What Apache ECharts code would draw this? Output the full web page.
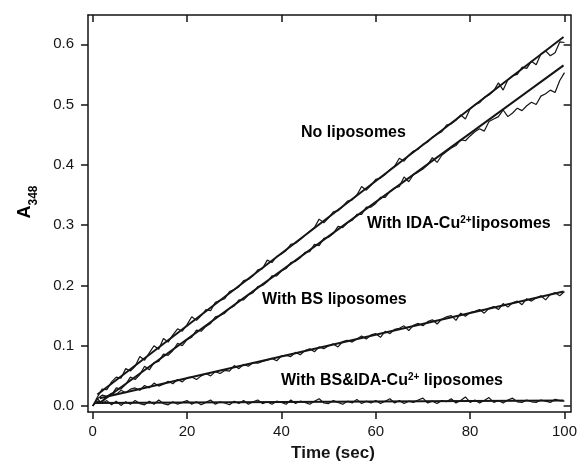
<!DOCTYPE html>
<html>
<head>
<meta charset="utf-8">
<script src="https://cdn.jsdelivr.net/npm/echarts@6/dist/echarts.min.js"></script>
<style>
  html, body { margin: 0; padding: 0; background: #fff; }
  #chart { width: 580px; height: 463px; }
</style>
</head>
<body>
<div id="chart"></div>
<script>
// ============================================================
// A348 vs time, four traces with linear fits
// ============================================================

var FONT = '"Liberation Sans", Arial, Helvetica, sans-serif';
var INK = '#151515';

var X_TICKS = [0, 20, 40, 60, 80, 100];
var Y_TICKS = [0, 0.1, 0.2, 0.3, 0.4, 0.5, 0.6];

// sampled once per second, 0..100 s
var NO_LIPO = [
  0.000, 0.015, 0.028, 0.027, 0.040, 0.048, 0.046, 0.062, 0.058, 0.066,
  0.082, 0.076, 0.088, 0.100, 0.094, 0.112, 0.106, 0.118, 0.128, 0.124,
  0.135, 0.148, 0.142, 0.150, 0.160, 0.158, 0.172, 0.175, 0.178, 0.190,
  0.193, 0.198, 0.208, 0.210, 0.216, 0.226, 0.228, 0.242, 0.238, 0.248,
  0.252, 0.258, 0.268, 0.270, 0.276, 0.283, 0.290, 0.296, 0.310, 0.304,
  0.312, 0.322, 0.324, 0.331, 0.340, 0.342, 0.350, 0.364, 0.358, 0.366,
  0.376, 0.378, 0.384, 0.392, 0.398, 0.411, 0.406, 0.416, 0.423, 0.426,
  0.434, 0.438, 0.446, 0.451, 0.455, 0.466, 0.468, 0.474, 0.483, 0.476,
  0.493, 0.500, 0.503, 0.512, 0.516, 0.523, 0.536, 0.524, 0.541, 0.548,
  0.550, 0.562, 0.560, 0.572, 0.566, 0.584, 0.589, 0.581, 0.586, 0.604,
  0.603
];
var IDA_CU = [
  0.000, 0.008, 0.006, 0.016, 0.018, 0.030, 0.028, 0.036, 0.048, 0.044,
  0.052, 0.066, 0.060, 0.072, 0.074, 0.086, 0.084, 0.092, 0.104, 0.100,
  0.110, 0.114, 0.126, 0.124, 0.132, 0.137, 0.148, 0.150, 0.154, 0.162,
  0.166, 0.176, 0.176, 0.184, 0.188, 0.198, 0.200, 0.206, 0.216, 0.216,
  0.224, 0.228, 0.238, 0.240, 0.246, 0.255, 0.256, 0.268, 0.266, 0.278,
  0.280, 0.286, 0.298, 0.296, 0.304, 0.308, 0.318, 0.318, 0.330, 0.330,
  0.336, 0.346, 0.346, 0.356, 0.362, 0.364, 0.380, 0.372, 0.384, 0.388,
  0.393, 0.400, 0.412, 0.404, 0.416, 0.422, 0.428, 0.432, 0.442, 0.440,
  0.448, 0.455, 0.460, 0.456, 0.472, 0.476, 0.480, 0.491, 0.480, 0.486,
  0.494, 0.490, 0.498, 0.504, 0.500, 0.514, 0.518, 0.524, 0.520, 0.540,
  0.553
];
var BS = [
  0.000, 0.012, 0.018, 0.016, 0.021, 0.019, 0.026, 0.022, 0.028, 0.030,
  0.026, 0.034, 0.030, 0.038, 0.033, 0.036, 0.041, 0.037, 0.044, 0.040,
  0.047, 0.048, 0.044, 0.050, 0.054, 0.050, 0.057, 0.054, 0.059, 0.058,
  0.067, 0.062, 0.069, 0.066, 0.072, 0.071, 0.074, 0.076, 0.079, 0.075,
  0.083, 0.084, 0.082, 0.089, 0.085, 0.092, 0.095, 0.090, 0.098, 0.095,
  0.100, 0.103, 0.098, 0.107, 0.109, 0.106, 0.111, 0.116, 0.111, 0.118,
  0.120, 0.114, 0.124, 0.120, 0.127, 0.129, 0.133, 0.125, 0.134, 0.137,
  0.133, 0.140, 0.143, 0.136, 0.144, 0.148, 0.150, 0.142, 0.154, 0.149,
  0.155, 0.157, 0.160, 0.154, 0.162, 0.165, 0.160, 0.170, 0.164, 0.171,
  0.174, 0.168, 0.178, 0.174, 0.179, 0.183, 0.176, 0.185, 0.188, 0.183,
  0.190
];
var BS_IDA_CU = [
  0.000, 0.012, 0.004, 0.009, 0.002, 0.008, 0.001, 0.007, 0.003, 0.009,
  0.004, 0.002, 0.008, 0.003, 0.010, 0.004, 0.002, 0.007, 0.003, 0.006,
  0.009, 0.003, 0.007, 0.002, 0.006, 0.010, 0.003, 0.007, 0.005, 0.002,
  0.008, 0.004, 0.009, 0.003, 0.007, 0.010, 0.004, 0.007, 0.003, 0.008,
  0.006, 0.003, 0.010, 0.004, 0.008, 0.006, 0.003, 0.008, 0.012, 0.005,
  0.004, 0.009, 0.006, 0.003, 0.008, 0.005, 0.011, 0.004, 0.008, 0.005,
  0.009, 0.004, 0.008, 0.012, 0.005, 0.009, 0.004, 0.008, 0.006, 0.010,
  0.013, 0.005, 0.008, 0.004, 0.009, 0.007, 0.012, 0.005, 0.009, 0.015,
  0.006, 0.010, 0.005, 0.009, 0.014, 0.006, 0.009, 0.005, 0.010, 0.013,
  0.007, 0.006, 0.010, 0.007, 0.006, 0.010, 0.008, 0.006, 0.011, 0.009,
  0.008
];

// linear fits: [x0, y0, x1, y1]
var FIT_NO_LIPO = [1.0, 0.019, 99.8, 0.612];
var FIT_IDA_CU = [1.5, 0.0055, 99.8, 0.565];
var FIT_BS = [1.5, 0.013, 99.8, 0.190];
var FIT_BS_IDA_CU = [0.5, 0.005, 99.8, 0.009];

// ============================================================

function toPairs(values) {
  return values.map(function(v, i) { return [i, v]; });
}

function traceSeries(name, values) {
  return {
    name: name, type: 'line', data: toPairs(values),
    showSymbol: false, silent: true,
    lineStyle: { color: INK, width: 1.2 },
  };
}

function fitSeries(name, fit) {
  return {
    name: name, type: 'line', data: [[fit[0], fit[1]], [fit[2], fit[3]]],
    showSymbol: false, silent: true, z: 3,
    lineStyle: { color: INK, width: 2 },
  };
}

function axisBase(extra) {
  var base = {
    type: 'value',
    splitLine: { show: false },
    axisLine: { show: true, onZero: false, lineStyle: { color: INK, width: 1.5 } },
  };
  return Object.assign(base, extra);
}

var chart = echarts.init(document.getElementById('chart'), null, { renderer: 'canvas' });

var labelBold = { fontFamily: FONT, fontWeight: 'bold', fontSize: 16, lineHeight: 18, color: INK };
var supStyle = { fontFamily: FONT, fontWeight: 'bold', fontSize: 10, lineHeight: 10, verticalAlign: 'top', color: INK };

function note(x, y, text) {
  return {
    type: 'text', x: x, y: y, z: 10,
    style: {
      text: text, textVerticalAlign: 'middle',
      rich: { b: labelBold, sup: supStyle },
    },
  };
}

chart.setOption({
  animation: false,
  backgroundColor: '#fff',
  grid: { left: 88, right: 6, top: 15, bottom: 51 },
  xAxis: [
    axisBase({
      position: 'bottom', min: -0.99, max: 101.3,
      axisTick: { show: true, inside: false, length: 7, customValues: X_TICKS, lineStyle: { color: INK, width: 1.5 } },
      axisLabel: { show: true, customValues: X_TICKS, margin: 12, fontFamily: FONT, fontSize: 15, color: INK },
    }),
    axisBase({
      position: 'top', min: -0.99, max: 101.3,
      axisTick: { show: true, inside: true, length: 7, customValues: X_TICKS, lineStyle: { color: INK, width: 1.5 } },
      axisLabel: { show: false },
    }),
  ],
  yAxis: [
    axisBase({
      position: 'left', min: -0.00995, max: 0.6486,
      axisTick: { show: true, inside: false, length: 7, customValues: Y_TICKS, lineStyle: { color: INK, width: 1.5 } },
      axisLabel: {
        show: true, customValues: Y_TICKS, margin: 14, fontFamily: FONT, fontSize: 15, color: INK,
        formatter: function(v) { return v.toFixed(1); },
      },
    }),
    axisBase({
      position: 'right', min: -0.00995, max: 0.6486,
      axisTick: { show: true, inside: true, length: 7, customValues: Y_TICKS, lineStyle: { color: INK, width: 1.5 } },
      axisLabel: { show: false },
    }),
  ],
  series: [
    traceSeries('No liposomes', NO_LIPO),
    traceSeries('With IDA-Cu2+ liposomes', IDA_CU),
    traceSeries('With BS liposomes', BS),
    traceSeries('With BS&IDA-Cu2+ liposomes', BS_IDA_CU),
    fitSeries('fit no', FIT_NO_LIPO),
    fitSeries('fit ida', FIT_IDA_CU),
    fitSeries('fit bs', FIT_BS),
    fitSeries('fit bs ida', FIT_BS_IDA_CU),
  ],
  graphic: [
    note(301, 133, '{b|No liposomes}'),
    note(367, 224, '{b|With IDA-Cu}{sup|2+}{b|liposomes}'),
    note(262, 300, '{b|With BS liposomes}'),
    note(281, 381, '{b|With BS&IDA-Cu}{sup|2+}{b| liposomes}'),
    {
      type: 'text', x: 333, y: 453,
      style: { text: 'Time (sec)', font: 'bold 17px ' + FONT, fill: INK, textAlign: 'center', textVerticalAlign: 'middle' },
    },
    {
      type: 'text', x: 28, y: 202, rotation: Math.PI / 2,
      style: {
        text: '{a|A}{s|348}', textAlign: 'center', textVerticalAlign: 'middle',
        rich: {
          a: { fontFamily: FONT, fontWeight: 'bold', fontSize: 18, lineHeight: 23, verticalAlign: 'top', color: INK },
          s: { fontFamily: FONT, fontWeight: 'bold', fontSize: 12, lineHeight: 12, verticalAlign: 'bottom', color: INK },
        },
      },
    },
  ],
});
</script>
</body>
</html>
